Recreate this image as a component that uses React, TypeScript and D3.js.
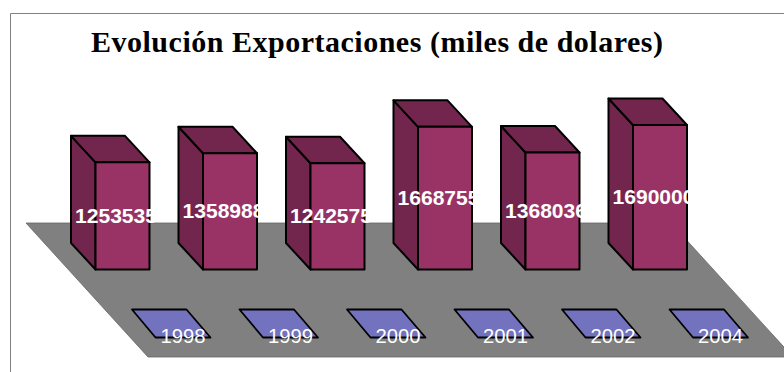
import React from "react";
import * as d3 from "d3";

const years = ["1998", "1999", "2000", "2001", "2002", "2004"];
const exportsValues = [1253535, 1358988, 1242575, 1668755, 1368036, 1690000];
const chartTitle = "Evolución Exportaciones (miles de dolares)";

const WIDTH = 784;
const HEIGHT = 372;
const BASE_Y = 269.5;
const DEPTH_X = 24.5;
const DEPTH_Y = 26.5;
const BAR_WIDTH = 54;

const FACE = "#993366";
const SIDE = "#73264D";
const FLOOR = "#808080";
const PLATE = "#7272BF";
const FRAME = "#808080";

// Bars stand on a shared baseline; heights are proportional to the value.
const y = d3.scaleLinear().domain([0, 1690000]).range([BASE_Y, 125]);

// Evenly spaced front-face positions, one per year.
const x = d3
  .scalePoint<string>()
  .domain(years)
  .range([95.5, 633]);

const poly = (pts: [number, number][]) => d3.line()(pts) + "Z";

export default function App() {
  return (
    <svg
      width={WIDTH}
      height={HEIGHT}
      viewBox={`0 0 ${WIDTH} ${HEIGHT}`}
      style={{ position: "absolute", left: 0, top: 0, background: "#fff" }}
    >
      {/* outer chart frame, only top and left fall inside the view */}
      <path d="M10.5 372V13.5H784" fill="none" stroke={FRAME} strokeWidth={1} />

      <text
        x={91}
        y={52}
        fontFamily="'Liberation Serif', serif"
        fontWeight="bold"
        fontSize={30}
        fill="#000"
        textLength={572}
        lengthAdjust="spacing"
      >
        {chartTitle}
      </text>

      {/* floor */}
      <path
        d={poly([
          [26, 223],
          [671, 223],
          [793, 357],
          [148, 357],
        ])}
        fill={FLOOR}
        stroke="#666"
        strokeWidth={0.8}
      />

      {/* category plates */}
      {years.map((yr) => {
        const x0 = (x(yr) as number) + 60;
        return (
          <g key={yr}>
            <path
              d={poly([
                [x0 - 23.5, 309.5],
                [x0 + 31, 309.5],
                [x0 + 55, 337.5],
                [x0, 337.5],
              ])}
              fill={PLATE}
              stroke="#000"
              strokeWidth={1.8}
              strokeLinejoin="round"
            />
            <text
              x={x0 + 5}
              y={343}
              fontFamily="'Liberation Sans', sans-serif"
              fontSize={20}
              fill="#fff"
              textLength={45}
              lengthAdjust="spacingAndGlyphs"
            >
              {yr}
            </text>
          </g>
        );
      })}

      {/* bars */}
      {years.map((yr, i) => {
        const x0 = x(yr) as number;
        const top = y(exportsValues[i]);
        const x1 = x0 + BAR_WIDTH;
        return (
          <g key={yr} stroke="#000" strokeWidth={2} strokeLinejoin="round">
            <path
              d={poly([
                [x0 - DEPTH_X, top - DEPTH_Y],
                [x0, top],
                [x0, BASE_Y],
                [x0 - DEPTH_X, BASE_Y - DEPTH_Y],
              ])}
              fill={SIDE}
            />
            <path
              d={poly([
                [x0 - DEPTH_X, top - DEPTH_Y],
                [x1 - DEPTH_X, top - DEPTH_Y],
                [x1, top],
                [x0, top],
              ])}
              fill={SIDE}
            />
            <rect x={x0} y={top} width={BAR_WIDTH} height={BASE_Y - top} fill={FACE} />
          </g>
        );
      })}

      {/* value labels run across each bar at mid height */}
      {years.map((yr, i) => {
        const x0 = x(yr) as number;
        const top = y(exportsValues[i]);
        return (
          <text
            key={yr}
            x={x0 - 20.5}
            y={(top - DEPTH_Y + BASE_Y) / 2 + 20.3}
            fontFamily="'Liberation Sans', sans-serif"
            fontWeight="bold"
            fontSize={20}
            fill="#fff"
            textLength={82}
            lengthAdjust="spacingAndGlyphs"
          >
            {exportsValues[i]}
          </text>
        );
      })}
    </svg>
  );
}
